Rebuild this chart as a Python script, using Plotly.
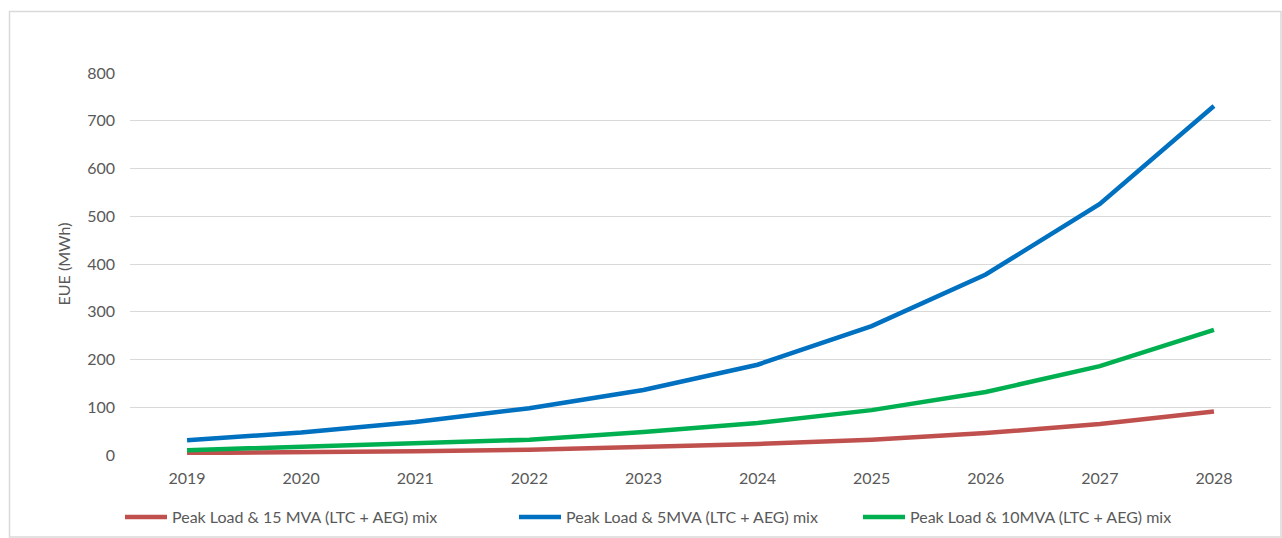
import plotly.graph_objects as go

# Years on the category axis
years = ["2019", "2020", "2021", "2022", "2023", "2024", "2025", "2026", "2027", "2028"]

# Expected unserved energy (MWh) per scenario
eue_15mva = [4, 5, 8, 11, 17, 23, 32, 46, 65, 91]
eue_5mva = [31, 47, 69, 98, 136, 189, 270, 378, 526, 731]
eue_10mva = [10, 17, 24, 32, 48, 67, 94, 132, 186, 262]

series_names = [
    "Peak Load & 15 MVA (LTC + AEG) mix",
    "Peak Load & 5MVA (LTC + AEG) mix",
    "Peak Load & 10MVA (LTC + AEG) mix",
]
colors = ["#C0504D", "#0070C0", "#00B050"]
y_ticks = [0, 100, 200, 300, 400, 500, 600, 700, 800]

W, H = 1282, 538
FONT = "Lato"
GREY_TXT = "#595959"
FS = 16

fig = go.Figure()
for i, (name, vals, col) in enumerate(zip(series_names, [eue_15mva, eue_5mva, eue_10mva], colors)):
    fig.add_trace(go.Scatter(
        x=years, y=vals, name=name, mode="lines",
        line=dict(color=col, width=4.5),
        legend="legend" if i == 0 else f"legend{i + 1}",
    ))

# Each legend entry placed separately along the bottom
legend_x = [120, 514, 858]
legend_common = dict(
    orientation="h", xref="container", yref="container",
    xanchor="left", yanchor="middle", y=1 - 517 / H,
    font=dict(family=FONT, size=FS, color=GREY_TXT),
    bgcolor="rgba(0,0,0,0)", borderwidth=0, itemwidth=42,
)

plot_l, plot_r, plot_t, plot_b = 130, 1271, 73, 455

fig.update_layout(
    width=W, height=H,
    margin=dict(l=plot_l, r=W - plot_r, t=plot_t, b=H - plot_b, autoexpand=False),
    paper_bgcolor="white", plot_bgcolor="white",
    font=dict(family=FONT, size=FS, color=GREY_TXT),
    showlegend=True,
    legend=dict(x=legend_x[0] / W, **legend_common),
    legend2=dict(x=legend_x[1] / W, **legend_common),
    legend3=dict(x=legend_x[2] / W, **legend_common),
    xaxis=dict(
        type="category", range=[-0.5, 9.5],
        showgrid=False, showline=False, zeroline=False, ticks="",
        tickfont=dict(family=FONT, size=FS, color=GREY_TXT),
        ticklabelstandoff=12,
    ),
    yaxis=dict(
        range=[0, 800], tickvals=y_ticks,
        showgrid=True, gridcolor="#D9D9D9", gridwidth=1.2,
        zeroline=False, showline=False, ticks="",
        tickfont=dict(family=FONT, size=FS, color=GREY_TXT),
        ticklabelstandoff=14,
        title=dict(text="EUE (MWh)", font=dict(family=FONT, size=FS, color=GREY_TXT), standoff=12),
    ),
    shapes=[dict(
        type="rect", xref="paper", yref="paper",
        x0=(9.5 - plot_l) / (plot_r - plot_l), x1=(1281 - plot_l) / (plot_r - plot_l),
        y0=(plot_b - 537) / (plot_b - plot_t), y1=(plot_b - 11.5) / (plot_b - plot_t),
        line=dict(color="#D9D9D9", width=1.5), fillcolor="rgba(0,0,0,0)", layer="below",
    )],
)

fig.write_html("out.html")
